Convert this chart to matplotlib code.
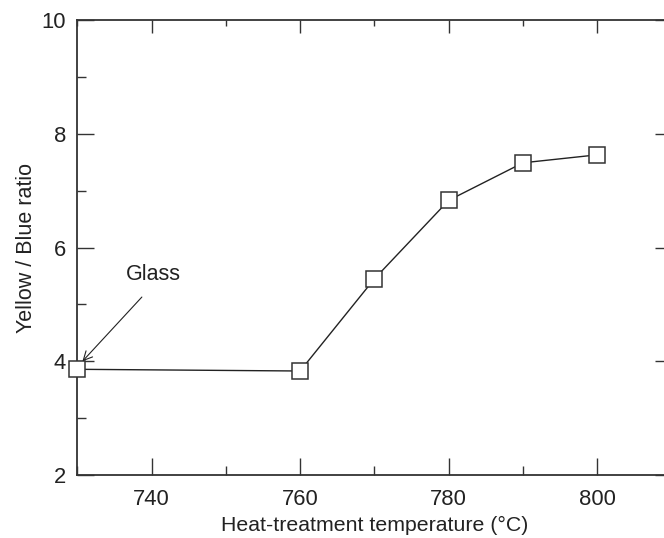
import matplotlib
matplotlib.use("Agg")
import matplotlib.pyplot as plt
from matplotlib.ticker import MultipleLocator

temperature = [730, 760, 770, 780, 790, 800]
yb_ratio = [3.86, 3.83, 5.45, 6.83, 7.49, 7.63]
xticks = [740, 760, 780, 800]
yticks = [2, 4, 6, 8, 10]
annot_text = "Glass"
annot_text_xy = (740.2, 5.52)
arrow_start = (738.7, 5.13)
arrow_end = (730.7, 4.0)

plt.rcParams['font.family'] = ['Liberation Sans', 'DejaVu Sans']
fig = plt.figure(figsize=(6.64, 5.38), dpi=100)
ax = fig.add_axes([0.1163, 0.1169, 1.0114 - 0.1163, 0.9628 - 0.1169])

ax.plot(temperature, yb_ratio, color='#222222', lw=1.0, marker='s', ms=11.5,
        mfc='white', mec='#333333', mew=1.1, zorder=3, clip_on=False)

ax.set_xlim(730, 810)
ax.set_ylim(2, 10)
ax.set_xticks(xticks)
ax.set_yticks(yticks)
ax.xaxis.set_minor_locator(MultipleLocator(10))
ax.yaxis.set_minor_locator(MultipleLocator(1))

ax.tick_params(which='major', direction='in', length=12.5, width=1.0, color='#333333',
               labelsize=15.8, top=False, right=True, labelcolor='#222222')
ax.tick_params(axis='x', which='major', pad=10)
ax.tick_params(axis='y', which='major', pad=8)
ax.tick_params(which='minor', direction='in', length=6.5, width=1.0, color='#333333',
               top=False, right=False)

sec = ax.secondary_xaxis('top')
sec.set_xticks(xticks)
sec.xaxis.set_minor_locator(MultipleLocator(10))
sec.tick_params(which='major', direction='in', length=9.5, width=1.0, color='#333333', labeltop=False)
sec.tick_params(which='minor', direction='in', length=4.5, width=1.0, color='#333333')
sec.spines['top'].set_visible(False)

for s in ax.spines.values():
    s.set_linewidth(1.3)
    s.set_color('#333333')

ax.set_xlabel('Heat-treatment temperature (°C)', fontsize=15.3, labelpad=4.5, color='#222222')
ax.set_ylabel('Yellow / Blue ratio', fontsize=15.5, labelpad=3, color='#222222')

ax.text(*annot_text_xy, annot_text, fontsize=15.5, ha='center', va='center', color='#222222')
ax.annotate('', xy=arrow_end, xytext=arrow_start,
            arrowprops=dict(arrowstyle='->', color='#222222', lw=0.8,
                            shrinkA=0, shrinkB=0, mutation_scale=16))

fig.savefig('out.png', dpi=100)
